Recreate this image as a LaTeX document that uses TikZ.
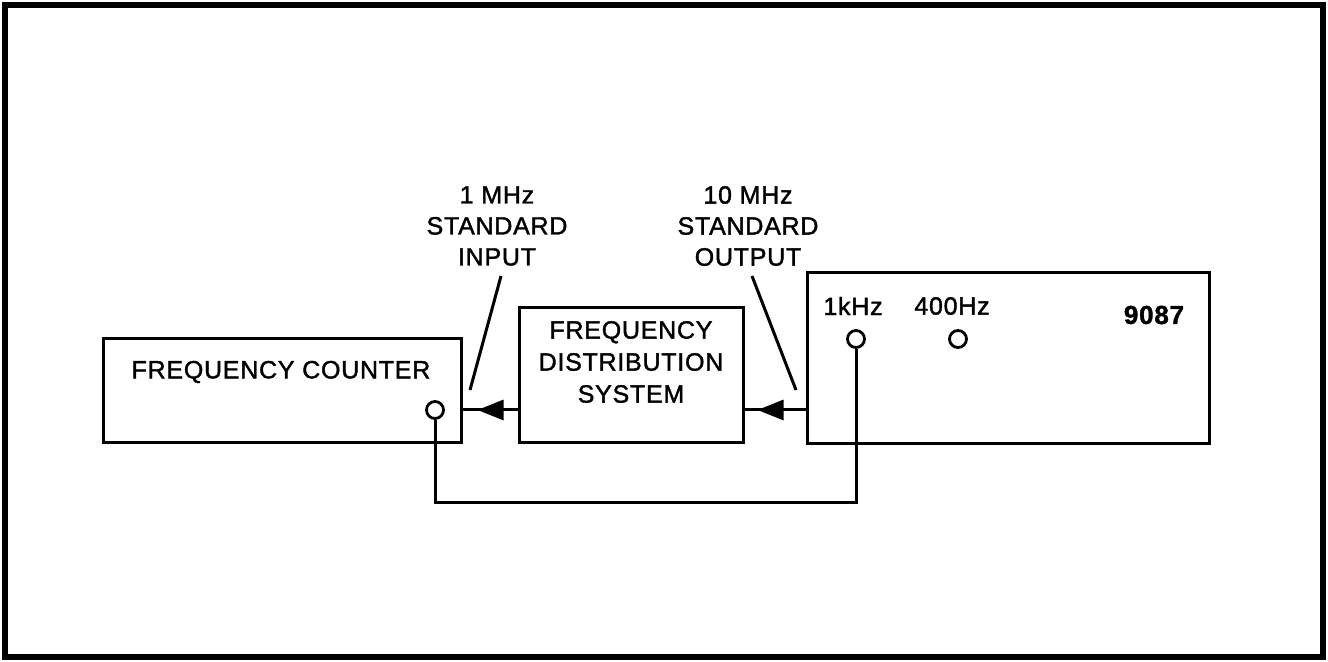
\documentclass[tikz,border=0pt]{standalone}
\usepackage{fontspec}
\setmainfont{Liberation Sans}[FakeBold=1.5,LetterSpace=3]
\usetikzlibrary{arrows.meta}
\begin{document}
\begin{tikzpicture}[x=0.5pt,y=-0.5pt,
  line width=1.5pt,
  box/.style={draw,line width=1.5pt,inner sep=0pt},
  lbl/.style={font=\fontsize{12.5}{15.5}\selectfont,align=center,inner sep=0pt},
  port/.style={draw,circle,line width=1.4pt,inner sep=0pt,minimum size=8.5pt},
  tip/.style={-{Triangle[length=13pt,width=10pt]}}]
\useasboundingbox (0,0) rectangle (1328,662);
\draw[line width=2.6pt] (5,5) rectangle (1323,657);
% boxes
\node[box,minimum width=179pt,minimum height=52pt] (fc) at (282,391) {};
\node[box,minimum width=112pt,minimum height=67.5pt] (fds) at (631,375.5) {};
\node[box,minimum width=201pt,minimum height=85.5pt] (std) at (1008,358) {};
% texts
\node[lbl] (fct) at (281,372) {FREQUENCY COUNTER};
\node[lbl,font=\fontsize{12.5}{16}\selectfont] (fdst) at (631,362) {FREQUENCY\\DISTRIBUTION\\SYSTEM};
\node[lbl] (k1) at (853,306) {1kHz};
\node[lbl] (k4) at (952,306) {400Hz};
\node[lbl,font=\fontsize{13}{16}\selectfont\bfseries] (num) at (1154,315) {9087};
\node[lbl] (inl) at (497,226) {1 MHz\\STANDARD\\INPUT};
\node[lbl] (outl) at (748,226) {10 MHz\\STANDARD\\OUTPUT};
% ports
\node[port] (fcport) at (435,410) {};
\node[port] (kport) at (856,339) {};
\node[port] (hport) at (958,339) {};
% signal row
\coordinate (row) at (0,410);
\draw (fds.west |- row) -- (fc.east |- row);
\draw[tip] (fds.west |- row) -- ([xshift=7.5pt]fc.east |- row);
\draw (std.west |- row) -- (fds.east |- row);
\draw[tip] (std.west |- row) -- ([xshift=6.5pt]fds.east |- row);
% bottom connection
\coordinate (bot) at (0,503);
\draw (fcport.south) -- (fcport |- bot) -| (kport.south);
% leader lines
\coordinate (inTop) at (501,276);
\coordinate (inBot) at (470,390);
\coordinate (outTop) at (752,276);
\coordinate (outBot) at (796,390);
\draw (inTop) -- (inBot);
\draw (outTop) -- (outBot);
\end{tikzpicture}
\end{document}
